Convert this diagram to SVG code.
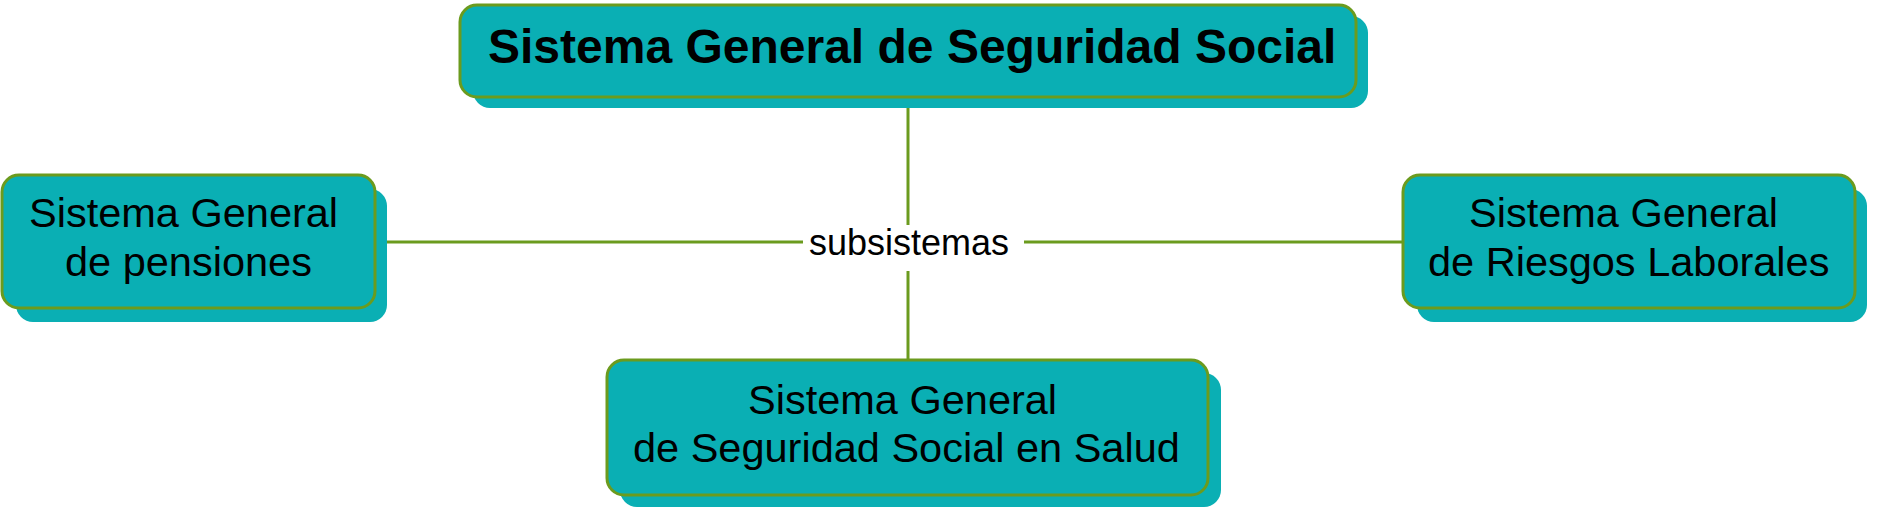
<svg xmlns="http://www.w3.org/2000/svg" width="1877" height="513" viewBox="0 0 1877 513">
  <style>
    .shadow { fill: #0AAFB4; stroke: none; }
    .box { fill: #0AAFB4; stroke: #6B9B1E; stroke-width: 3; }
    .conn { stroke: #6B9B1E; stroke-width: 3; fill: none; }
    .lbl { font-family: "Liberation Sans", Arial, sans-serif; font-size: 41.5px; fill: #000; }
    .title { font-family: "Liberation Sans", Arial, sans-serif; font-size: 48px; font-weight: bold; fill: #000; }
    .edge { font-family: "Liberation Sans", Arial, sans-serif; font-size: 36px; fill: #000; }
  </style>
  <rect width="1877" height="513" fill="#FFFFFF"/>
  <g id="connectors">
    <line class="conn" x1="908" y1="97" x2="908" y2="225"/>
    <line class="conn" x1="908" y1="271" x2="908" y2="360"/>
    <line class="conn" x1="375" y1="242" x2="803" y2="242"/>
    <line class="conn" x1="1024" y1="242" x2="1403" y2="242"/>
    <text class="edge" x="909" y="255" text-anchor="middle">subsistemas</text>
  </g>
  <g id="node-top">
    <rect class="shadow" x="473" y="16" width="895" height="92" rx="17"/>
    <rect class="box" x="460" y="5" width="896" height="92" rx="17"/>
    <text class="title" x="488" y="63">Sistema General de Seguridad Social</text>
  </g>
  <g id="node-pensiones">
    <rect class="shadow" x="16" y="189" width="371" height="133" rx="17"/>
    <rect class="box" x="2" y="175" width="373" height="133" rx="17"/>
    <text class="lbl" x="29" y="227">Sistema General</text>
    <text class="lbl" x="65" y="276">de pensiones</text>
  </g>
  <g id="node-riesgos">
    <rect class="shadow" x="1417" y="189" width="450" height="133" rx="17"/>
    <rect class="box" x="1403" y="175" width="452" height="133" rx="17"/>
    <text class="lbl" x="1469" y="227">Sistema General</text>
    <text class="lbl" x="1428" y="276">de Riesgos Laborales</text>
  </g>
  <g id="node-salud">
    <rect class="shadow" x="620" y="373" width="601" height="134" rx="17"/>
    <rect class="box" x="607" y="360" width="601" height="135" rx="17"/>
    <text class="lbl" x="748" y="414">Sistema General</text>
    <text class="lbl" x="633" y="462">de Seguridad Social en Salud</text>
  </g>
</svg>
